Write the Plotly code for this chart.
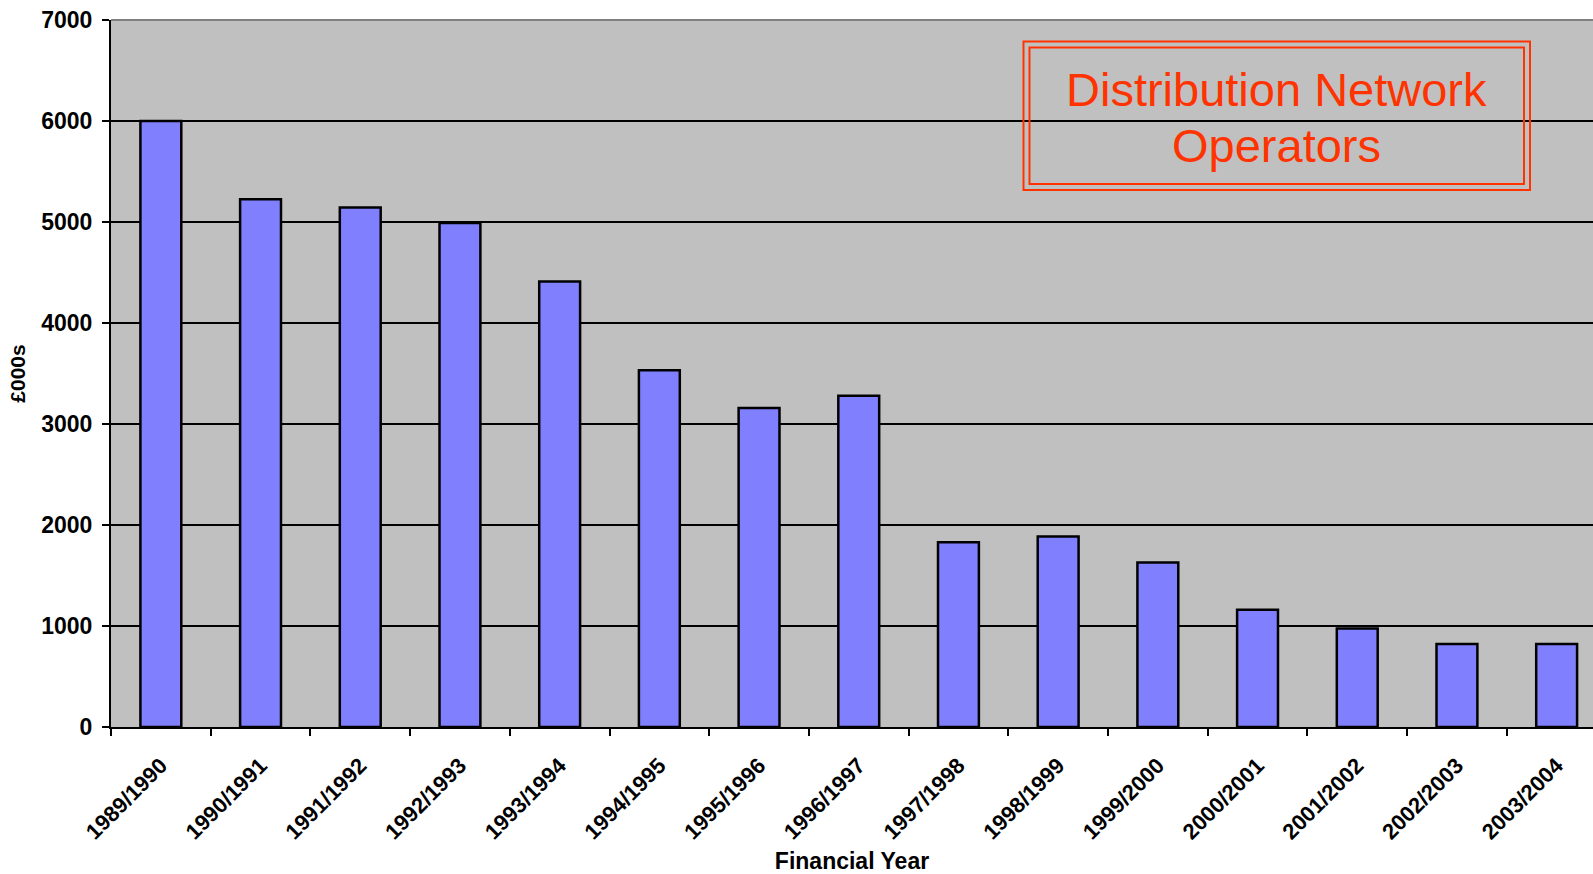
import plotly.graph_objects as go

years = ["1989/1990", "1990/1991", "1991/1992", "1992/1993", "1993/1994",
         "1994/1995", "1995/1996", "1996/1997", "1997/1998", "1998/1999",
         "1999/2000", "2000/2001", "2001/2002", "2002/2003", "2003/2004"]
values = [6000, 5225, 5143, 4990, 4412, 3533, 3158, 3280, 1828, 1887,
          1628, 1160, 976, 821, 821]
y_ticks = [0, 1000, 2000, 3000, 4000, 5000, 6000, 7000]

W, H = 1593, 874
L, R, T, B = 111, 1593, 20, 727

def px(x):
    return (x - L) / (R - L)

def py(y):
    return (B - y) / (B - T)

FONT = "Liberation Sans, Arial, sans-serif"

fig = go.Figure()
fig.add_trace(go.Bar(
    x=years, y=values,
    marker=dict(color="#8080FF", line=dict(color="black", width=2.5)),
    showlegend=False,
))

ncat_visible = (R - L) / 99.7

fig.update_layout(
    width=W, height=H,
    margin=dict(l=L, r=W - R, t=T, b=H - B, pad=0),
    paper_bgcolor="white", plot_bgcolor="#C0C0C0",
    bargap=0.59,
    font=dict(family=FONT, color="black"),
    xaxis=dict(
        type="category", categoryorder="array", categoryarray=years,
        range=[-0.5, -0.5 + ncat_visible],
        tickangle=-45, tickfont=dict(size=22, family=FONT, weight="bold"),
        showline=True, linecolor="black", linewidth=2,
        ticks="outside", ticklen=7, tickwidth=2, tickcolor="black",
        tickson="boundaries",
        showgrid=False, zeroline=False,
        ticklabelstandoff=15,
        title=dict(text="<b>Financial Year</b>", font=dict(size=23, family=FONT), standoff=10),
    ),
    yaxis=dict(
        range=[0, 7000], tickmode="array", tickvals=y_ticks,
        ticktext=[str(v) for v in y_ticks],
        tickfont=dict(size=23, family=FONT, weight="bold"),
        showline=True, linecolor="black", linewidth=2,
        ticks="outside", ticklen=7, tickwidth=2, tickcolor="black",
        showgrid=True, gridcolor="black", gridwidth=2, zeroline=False,
        ticklabelstandoff=5,
        title=dict(text="<b>£000s</b>", font=dict(size=21, family=FONT), standoff=10),
    ),
    shapes=[
        dict(type="line", xref="paper", yref="paper", x0=0, x1=1, y0=1, y1=1,
             line=dict(color="#808080", width=2), layer="above"),
        dict(type="rect", xref="paper", yref="paper",
             x0=px(1023.5), x1=px(1530), y0=py(41.5), y1=py(190),
             line=dict(color="#FF3300", width=2), fillcolor="rgba(0,0,0,0)", layer="above"),
        dict(type="rect", xref="paper", yref="paper",
             x0=px(1029.5), x1=px(1524), y0=py(47.5), y1=py(184),
             line=dict(color="#FF3300", width=2), fillcolor="rgba(0,0,0,0)", layer="above"),
    ],
    annotations=[
        dict(text="Distribution Network", xref="paper", yref="paper",
             x=px(1276.5), y=py(89), xanchor="center", yanchor="middle",
             showarrow=False, font=dict(size=47, color="#FF3300", family=FONT)),
        dict(text="Operators", xref="paper", yref="paper",
             x=px(1276.5), y=py(145), xanchor="center", yanchor="middle",
             showarrow=False, font=dict(size=47, color="#FF3300", family=FONT)),
    ],
)

fig.write_html("out.html")
